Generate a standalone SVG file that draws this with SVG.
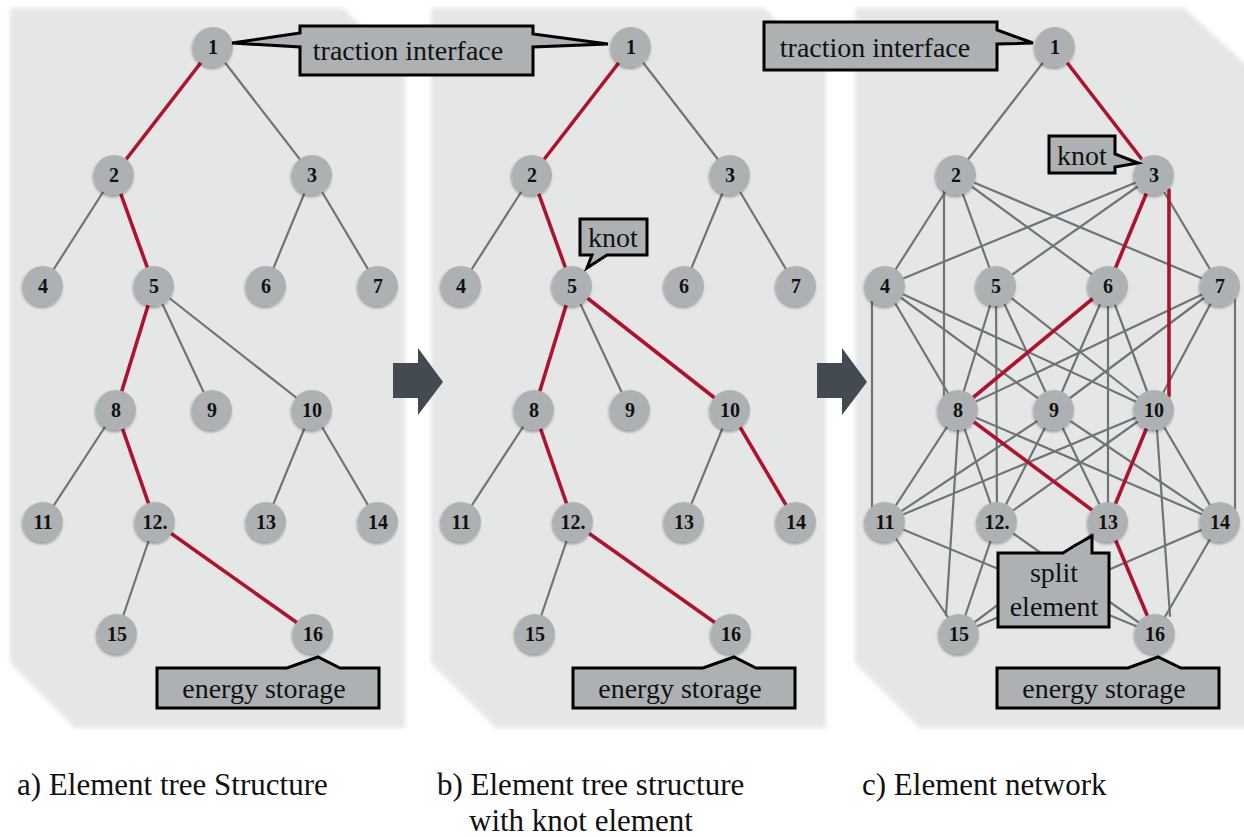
<svg xmlns="http://www.w3.org/2000/svg" width="1244" height="837" viewBox="0 0 1244 837">
<defs>
<filter id="soft" x="-5%" y="-5%" width="110%" height="110%"><feGaussianBlur stdDeviation="2"/></filter>
<filter id="sh" x="-40%" y="-40%" width="180%" height="180%"><feDropShadow dx="-1" dy="2" stdDeviation="1.6" flood-color="#000" flood-opacity="0.35"/></filter>
<style>
.panel{fill:#e5e6e6}
.g{stroke:#6e7478;stroke-width:2.2;fill:none;stroke-linecap:round}
.r{stroke:#b0122c;stroke-width:3.6;fill:none;stroke-linecap:round}
.node circle{fill:#adb1b4;filter:url(#sh)}
.node text{font-family:'Liberation Serif','Times New Roman',Tinos,'DejaVu Serif',serif;font-weight:bold;font-size:20px;text-anchor:middle;fill:#111}
.call{fill:#adb1b4;stroke:#000;stroke-width:3;stroke-linejoin:miter}
.ct{font-family:'Liberation Serif','Times New Roman',Tinos,'DejaVu Serif',serif;font-size:28px;text-anchor:middle;fill:#111}
.cap{font-family:'Liberation Serif','Times New Roman',Tinos,'DejaVu Serif',serif;font-size:31px;fill:#111}
.arrow{fill:#434a51}
</style>
</defs>
<rect width="1244" height="837" fill="#fff"/>
<g id="panels">
<polygon class="panel" filter="url(#soft)" points="10,8 343,8 405,68 405,728 75,728 10,663"/>
<polygon class="panel" filter="url(#soft)" points="431,8 764,8 826,68 826,728 496,728 431,663"/>
<polygon class="panel" filter="url(#soft)" points="855,8 1184,8 1250,68 1250,728 920,728 855,663"/>
</g>
<g id="connectors">
<!-- panel a -->
<line class="r" x1="213" y1="47" x2="114" y2="175"/>
<line class="g" x1="213" y1="47" x2="312" y2="175"/>
<line class="g" x1="114" y1="175" x2="43" y2="286"/>
<line class="r" x1="114" y1="175" x2="154" y2="286"/>
<line class="g" x1="312" y1="175" x2="266" y2="286"/>
<line class="g" x1="312" y1="175" x2="378" y2="286"/>
<line class="r" x1="154" y1="286" x2="116" y2="410"/>
<line class="g" x1="154" y1="286" x2="212" y2="410"/>
<line class="g" x1="154" y1="286" x2="312" y2="410"/>
<line class="g" x1="116" y1="410" x2="43" y2="522"/>
<line class="r" x1="116" y1="410" x2="155" y2="522"/>
<line class="g" x1="312" y1="410" x2="266" y2="522"/>
<line class="g" x1="312" y1="410" x2="378" y2="522"/>
<line class="g" x1="155" y1="522" x2="117" y2="634"/>
<line class="r" x1="155" y1="522" x2="313" y2="634"/>
<!-- panel b -->
<line class="r" x1="631" y1="47" x2="532" y2="175"/>
<line class="g" x1="631" y1="47" x2="730" y2="175"/>
<line class="g" x1="532" y1="175" x2="461" y2="286"/>
<line class="r" x1="532" y1="175" x2="572" y2="286"/>
<line class="g" x1="730" y1="175" x2="684" y2="286"/>
<line class="g" x1="730" y1="175" x2="796" y2="286"/>
<line class="r" x1="572" y1="286" x2="534" y2="410"/>
<line class="g" x1="572" y1="286" x2="630" y2="410"/>
<line class="r" x1="572" y1="286" x2="730" y2="410"/>
<line class="g" x1="534" y1="410" x2="461" y2="522"/>
<line class="r" x1="534" y1="410" x2="573" y2="522"/>
<line class="g" x1="730" y1="410" x2="684" y2="522"/>
<line class="r" x1="730" y1="410" x2="796" y2="522"/>
<line class="g" x1="573" y1="522" x2="535" y2="634"/>
<line class="r" x1="573" y1="522" x2="731" y2="634"/>
<!-- panel c gray -->
<line class="g" x1="1055" y1="47" x2="956" y2="175"/>
<line class="g" x1="956" y1="175" x2="885" y2="286"/>
<line class="g" x1="956" y1="175" x2="996" y2="286"/>
<line class="g" x1="956" y1="175" x2="1108" y2="286"/>
<line class="g" x1="956" y1="175" x2="1220" y2="286"/>
<line class="g" x1="944" y1="190" x2="944" y2="396"/>
<line class="g" x1="1154" y1="175" x2="885" y2="286"/>
<line class="g" x1="1154" y1="175" x2="996" y2="286"/>
<line class="g" x1="1154" y1="175" x2="1220" y2="286"/>
<line class="g" x1="885" y1="286" x2="958" y2="410"/>
<line class="g" x1="885" y1="286" x2="1054" y2="410"/>
<line class="g" x1="885" y1="286" x2="1154" y2="410"/>
<line class="g" x1="872" y1="300" x2="872" y2="512"/>
<line class="g" x1="996" y1="286" x2="958" y2="410"/>
<line class="g" x1="996" y1="286" x2="1054" y2="410"/>
<line class="g" x1="996" y1="286" x2="1154" y2="410"/>
<line class="g" x1="996" y1="286" x2="997" y2="522"/>
<line class="g" x1="1108" y1="286" x2="1054" y2="410"/>
<line class="g" x1="1108" y1="286" x2="1154" y2="410"/>
<line class="g" x1="1108" y1="286" x2="1108" y2="522"/>
<line class="g" x1="1220" y1="286" x2="958" y2="410"/>
<line class="g" x1="1220" y1="286" x2="1054" y2="410"/>
<line class="g" x1="1220" y1="286" x2="1154" y2="410"/>
<line class="g" x1="1235" y1="298" x2="1235" y2="510"/>
<line class="g" x1="958" y1="410" x2="885" y2="522"/>
<line class="g" x1="958" y1="410" x2="997" y2="522"/>
<line class="g" x1="958" y1="410" x2="1220" y2="522"/>
<line class="g" x1="958" y1="430" x2="946" y2="615"/>
<line class="g" x1="1054" y1="410" x2="885" y2="522"/>
<line class="g" x1="1054" y1="410" x2="997" y2="522"/>
<line class="g" x1="1054" y1="410" x2="1108" y2="522"/>
<line class="g" x1="1054" y1="410" x2="1220" y2="522"/>
<line class="g" x1="1154" y1="410" x2="885" y2="522"/>
<line class="g" x1="1154" y1="410" x2="997" y2="522"/>
<line class="g" x1="1154" y1="410" x2="1220" y2="522"/>
<line class="g" x1="1157" y1="430" x2="1170" y2="616"/>
<line class="g" x1="885" y1="522" x2="959" y2="634"/>
<line class="g" x1="885" y1="522" x2="1155" y2="634"/>
<line class="g" x1="997" y1="522" x2="959" y2="634"/>
<line class="g" x1="997" y1="522" x2="1155" y2="634"/>
<line class="g" x1="1108" y1="522" x2="959" y2="634"/>
<line class="g" x1="1220" y1="522" x2="959" y2="634"/>
<line class="g" x1="1220" y1="522" x2="1155" y2="634"/>
<!-- panel c red -->
<line class="r" x1="1055" y1="47" x2="1154" y2="175"/>
<line class="r" x1="1154" y1="175" x2="1108" y2="286"/>
<line class="r" x1="1169" y1="190" x2="1169" y2="396"/>
<line class="r" x1="1108" y1="286" x2="958" y2="410"/>
<line class="r" x1="958" y1="410" x2="1108" y2="522"/>
<line class="r" x1="1154" y1="410" x2="1108" y2="522"/>
<line class="r" x1="1108" y1="522" x2="1155" y2="634"/>
</g>
<g id="arrows">
<polygon class="arrow" points="393,363 418,363 418,348 443,382 418,415 418,398 393,398"/>
<polygon class="arrow" points="817,363 842,363 842,348 867,382 842,415 842,398 817,398"/>
</g>
<!-- panel a nodes -->
<g id="a1" class="node"><circle cx="213" cy="47" r="20"/><text x="213" y="54">1</text></g>
<g id="a2" class="node"><circle cx="114" cy="175" r="20"/><text x="114" y="182">2</text></g>
<g id="a3" class="node"><circle cx="312" cy="175" r="20"/><text x="312" y="182">3</text></g>
<g id="a4" class="node"><circle cx="43" cy="286" r="20"/><text x="43" y="293">4</text></g>
<g id="a5" class="node"><circle cx="154" cy="286" r="20"/><text x="154" y="293">5</text></g>
<g id="a6" class="node"><circle cx="266" cy="286" r="20"/><text x="266" y="293">6</text></g>
<g id="a7" class="node"><circle cx="378" cy="286" r="20"/><text x="378" y="293">7</text></g>
<g id="a8" class="node"><circle cx="116" cy="410" r="20"/><text x="116" y="417">8</text></g>
<g id="a9" class="node"><circle cx="212" cy="410" r="20"/><text x="212" y="417">9</text></g>
<g id="a10" class="node"><circle cx="312" cy="410" r="20"/><text x="312" y="417">10</text></g>
<g id="a11" class="node"><circle cx="43" cy="522" r="20"/><text x="43" y="529">11</text></g>
<g id="a12" class="node"><circle cx="155" cy="522" r="20"/><text x="155" y="529">12.</text></g>
<g id="a13" class="node"><circle cx="266" cy="522" r="20"/><text x="266" y="529">13</text></g>
<g id="a14" class="node"><circle cx="378" cy="522" r="20"/><text x="378" y="529">14</text></g>
<g id="a15" class="node"><circle cx="117" cy="634" r="20"/><text x="117" y="641">15</text></g>
<g id="a16" class="node"><circle cx="313" cy="634" r="20"/><text x="313" y="641">16</text></g>
<!-- panel b nodes -->
<g id="b1" class="node"><circle cx="631" cy="47" r="20"/><text x="631" y="54">1</text></g>
<g id="b2" class="node"><circle cx="532" cy="175" r="20"/><text x="532" y="182">2</text></g>
<g id="b3" class="node"><circle cx="730" cy="175" r="20"/><text x="730" y="182">3</text></g>
<g id="b4" class="node"><circle cx="461" cy="286" r="20"/><text x="461" y="293">4</text></g>
<g id="b5" class="node"><circle cx="572" cy="286" r="20"/><text x="572" y="293">5</text></g>
<g id="b6" class="node"><circle cx="684" cy="286" r="20"/><text x="684" y="293">6</text></g>
<g id="b7" class="node"><circle cx="796" cy="286" r="20"/><text x="796" y="293">7</text></g>
<g id="b8" class="node"><circle cx="534" cy="410" r="20"/><text x="534" y="417">8</text></g>
<g id="b9" class="node"><circle cx="630" cy="410" r="20"/><text x="630" y="417">9</text></g>
<g id="b10" class="node"><circle cx="730" cy="410" r="20"/><text x="730" y="417">10</text></g>
<g id="b11" class="node"><circle cx="461" cy="522" r="20"/><text x="461" y="529">11</text></g>
<g id="b12" class="node"><circle cx="573" cy="522" r="20"/><text x="573" y="529">12.</text></g>
<g id="b13" class="node"><circle cx="684" cy="522" r="20"/><text x="684" y="529">13</text></g>
<g id="b14" class="node"><circle cx="796" cy="522" r="20"/><text x="796" y="529">14</text></g>
<g id="b15" class="node"><circle cx="535" cy="634" r="20"/><text x="535" y="641">15</text></g>
<g id="b16" class="node"><circle cx="731" cy="634" r="20"/><text x="731" y="641">16</text></g>
<!-- panel c nodes -->
<g id="c1" class="node"><circle cx="1055" cy="47" r="20"/><text x="1055" y="54">1</text></g>
<g id="c2" class="node"><circle cx="956" cy="175" r="20"/><text x="956" y="182">2</text></g>
<g id="c3" class="node"><circle cx="1154" cy="175" r="20"/><text x="1154" y="182">3</text></g>
<g id="c4" class="node"><circle cx="885" cy="286" r="20"/><text x="885" y="293">4</text></g>
<g id="c5" class="node"><circle cx="996" cy="286" r="20"/><text x="996" y="293">5</text></g>
<g id="c6" class="node"><circle cx="1108" cy="286" r="20"/><text x="1108" y="293">6</text></g>
<g id="c7" class="node"><circle cx="1220" cy="286" r="20"/><text x="1220" y="293">7</text></g>
<g id="c8" class="node"><circle cx="958" cy="410" r="20"/><text x="958" y="417">8</text></g>
<g id="c9" class="node"><circle cx="1054" cy="410" r="20"/><text x="1054" y="417">9</text></g>
<g id="c10" class="node"><circle cx="1154" cy="410" r="20"/><text x="1154" y="417">10</text></g>
<g id="c11" class="node"><circle cx="885" cy="522" r="20"/><text x="885" y="529">11</text></g>
<g id="c12" class="node"><circle cx="997" cy="522" r="20"/><text x="997" y="529">12.</text></g>
<g id="c13" class="node"><circle cx="1108" cy="522" r="20"/><text x="1108" y="529">13</text></g>
<g id="c14" class="node"><circle cx="1220" cy="522" r="20"/><text x="1220" y="529">14</text></g>
<g id="c15" class="node"><circle cx="959" cy="634" r="20"/><text x="959" y="641">15</text></g>
<g id="c16" class="node"><circle cx="1155" cy="634" r="20"/><text x="1155" y="641">16</text></g>
<!-- callouts -->
<g id="callout-traction-ab">
<polygon class="call" points="300,26 533,26 533,34 608,44 533,47 533,75 300,75 300,47 232,43 300,33"/>
<text class="ct" x="408" y="60">traction interface</text>
</g>
<g id="callout-traction-c">
<polygon class="call" points="764,22 997,22 997,30 1033,43 997,44 997,70 764,70"/>
<text class="ct" x="875" y="57">traction interface</text>
</g>
<g id="callout-knot-b">
<polygon class="call" points="580,219 647,219 647,255 607,255 587,268 592,255 580,255"/>
<text class="ct" x="613" y="247">knot</text>
</g>
<g id="callout-knot-c">
<polygon class="call" points="1049,136 1115,136 1115,154 1138,163 1115,167 1115,173 1049,173"/>
<text class="ct" x="1082" y="165">knot</text>
</g>
<g id="callout-split-c">
<polygon class="call" points="998,553 1063,553 1074,546 1092,536 1092,553 1109,553 1109,627 998,627"/>
<text class="ct" x="1054" y="582">split</text>
<text class="ct" x="1054" y="616">element</text>
</g>
<g id="callout-energy-a">
<polygon class="call" points="157,668 287,668 318,657 340,668 379,668 379,708 157,708"/>
<text class="ct" x="264" y="698">energy storage</text>
</g>
<g id="callout-energy-b">
<polygon class="call" points="573,668 703,668 734,657 756,668 795,668 795,708 573,708"/>
<text class="ct" x="680" y="698">energy storage</text>
</g>
<g id="callout-energy-c">
<polygon class="call" points="997,668 1128,668 1158,657 1181,668 1219,668 1219,708 997,708"/>
<text class="ct" x="1104" y="698">energy storage</text>
</g>
<g id="captions">
<text class="cap" x="17" y="795">a) Element tree Structure</text>
<text class="cap" x="437" y="795">b) Element tree structure</text>
<text class="cap" x="469" y="831">with knot element</text>
<text class="cap" x="862" y="795">c) Element network</text>
</g>
</svg>
